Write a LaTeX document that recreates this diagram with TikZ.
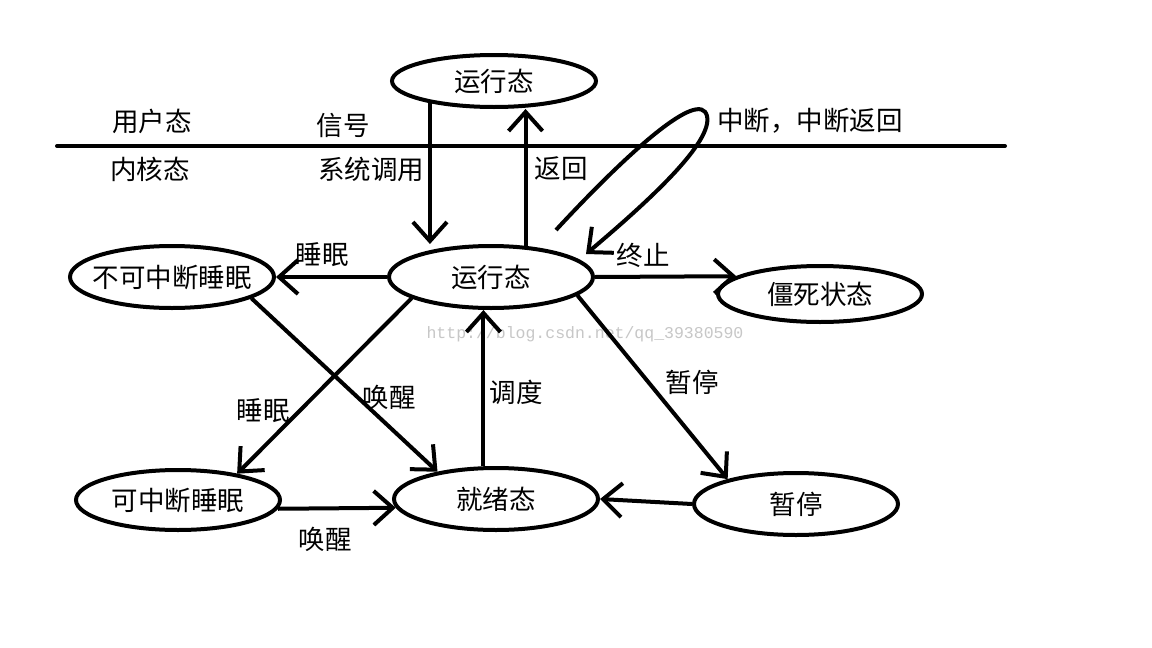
\documentclass[tikz,border=0pt]{standalone}
\usepackage{fontspec}
\setmainfont{Noto Sans CJK SC}
\newfontfamily\wmfont{Liberation Mono}
\usetikzlibrary{shapes.geometric,arrows.meta}
\tikzset{
  st/.style={ellipse,draw,line width=4pt,minimum width=204pt,minimum height=60pt,inner ysep=0pt,inner xsep=-30pt,font=\fontsize{26.5}{30}\selectfont},
  lbl/.style={inner sep=0pt,font=\fontsize{26.5}{30}\selectfont},
  arr/.style={line width=4pt,-{Straight Barb[length=19pt,width=34pt]}},
  ln/.style={line width=4pt,line cap=round}
}
\begin{document}
\begin{tikzpicture}[x=1pt,y=-1pt]
\useasboundingbox[fill=white] (0,0) rectangle (1152,648);
% states
\node[st,minimum height=52pt] (T) at (494,81) {运行态};
\node[st,minimum height=62pt] (R) at (491,277) {运行态};
\node[st,minimum height=62pt] (NS) at (172,277) {不可中断睡眠};
\node[st,minimum height=56pt] (Z) at (820,294) {僵死状态};
\node[st] (IS) at (178,500) {可中断睡眠};
\node[st,minimum height=62pt] (RD) at (496,499) {就绪态};
\node[st,minimum height=62pt] (P) at (796,504) {暂停};
% divider
\coordinate (L1) at (57,146);
\coordinate (L2) at (1005,146);
\draw[ln] (L1) -- (L2);
% labels
\node[lbl] (u) at (152,121) {用户态};
\node[lbl] (k) at (150,169) {内核态};
\node[lbl] (sig) at (343,125) {信号};
\node[lbl] (sys) at (371,169) {系统调用};
\node[lbl] (ret) at (561,169) {返回};
\node[lbl] (intr) at (810,121) {中断，中断返回};
\node[lbl] (s1) at (322,255) {睡眠};
\node[lbl] (end) at (643,255) {终止};
\node[lbl] (s2) at (263,411) {睡眠};
\node[lbl] (w1) at (389,397) {唤醒};
\node[lbl] (sch) at (516,392) {调度};
\node[lbl] (pa) at (692,382) {暂停};
\node[lbl] (w2) at (325,539) {唤醒};
% watermark
\node[inner sep=0pt,text=black!22,font=\wmfont\fontsize{16.5}{18}\selectfont] (wm) at (585,334) {http://blog.csdn.net/qq\_39380590};
% connectors
\draw[arr] (T.199) -- (T.199 |- R.north);
\draw[arr] (R.42) -- (R.42 |- T.south);
\coordinate (ls) at (556,230);
\coordinate (le) at (586,254);
\draw[arr] (ls) .. controls (630,150) and (700,88) .. (707,116) .. controls (713,142) and (650,200) .. (le);
\draw[arr] (R.west) -- (NS.east);
\draw[arr] (R.east) -- (Z.168);
\draw[arr] (R.195) -- (IS.24);
\draw[arr] (NS.345) -- (RD.155);
\draw[arr] (RD.111) -- (RD.111 |- R.south);
\draw[arr] (R.348) -- (P.160);
\draw[arr] (P.west) -- (RD.east);
\draw[arr] (IS.355) -- (RD.185);
\end{tikzpicture}
\end{document}
